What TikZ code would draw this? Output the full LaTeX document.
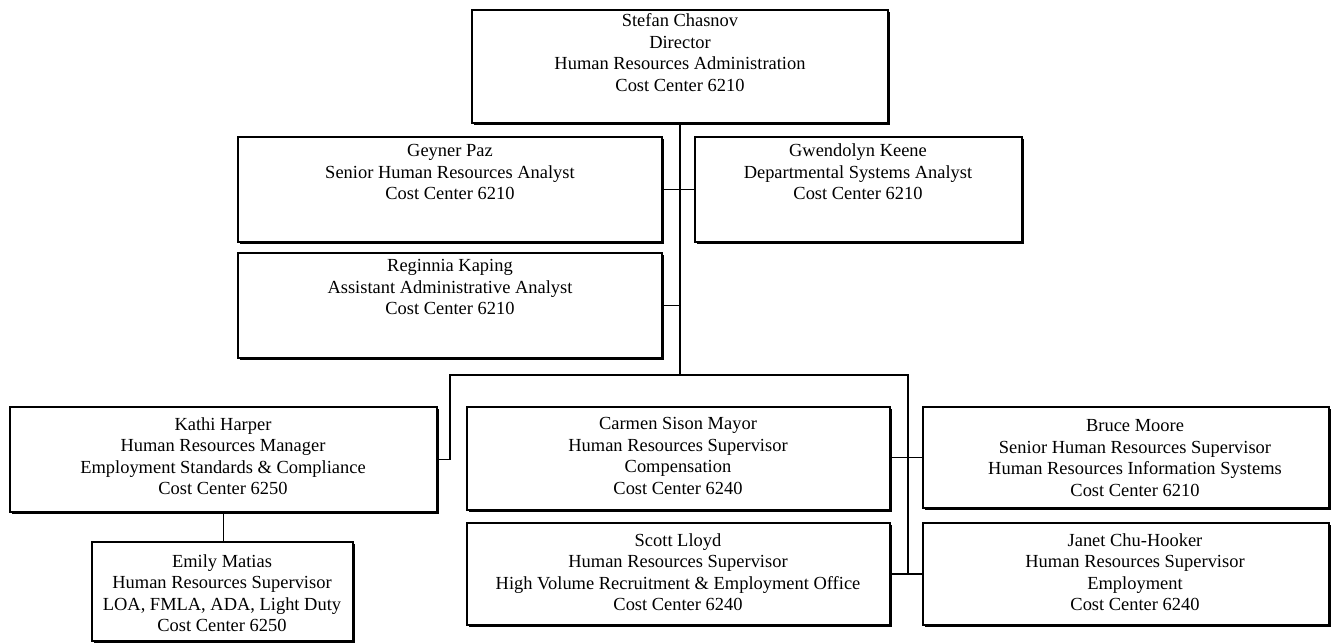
\documentclass[tikz,border=0pt]{standalone}
\usepackage{fontspec}
\setmainfont{Liberation Serif}
\usetikzlibrary{positioning,shadows}
\tikzset{
  card/.style={draw=black, fill=white, line width=0.8pt, inner sep=0pt,
    drop shadow={shadow xshift=0.9pt, shadow yshift=-0.9pt, fill=black, opacity=1}},
  lab/.style={align=center, font=\fontsize{10.5}{12.2}\selectfont},
  link/.style={draw=black, line width=0.6pt},
}

\begin{document}
\begin{tikzpicture}[x=0.02cm, y=-0.02cm]
  \useasboundingbox (0,0) rectangle (1331,643);

  % boxes
  \node[card, minimum width=8.32cm, minimum height=2.26cm] (dir) at (680,66.5) {};
  \node[card, minimum width=8.48cm, minimum height=2.10cm] (paz) at (450,189.5) {};
  \node[card, minimum width=6.54cm, minimum height=2.10cm] (keene) at (858.5,189.5) {};
  \node[card, minimum width=8.48cm, minimum height=2.10cm] (kaping) at (450,305.5) {};
  \node[card, minimum width=8.54cm, minimum height=2.10cm] (harper) at (223.5,459.5) {};
  \node[card, minimum width=5.22cm, minimum height=1.98cm] (matias) at (222.5,591.5) {};
  \node[card, minimum width=8.46cm, minimum height=2.06cm] (mayor) at (678.5,458.5) {};
  \node[card, minimum width=8.46cm, minimum height=2.04cm] (lloyd) at (678.5,574) {};
  \node[card, minimum width=8.12cm, minimum height=2.02cm] (moore) at (1126,457.5) {};
  \node[card, minimum width=8.12cm, minimum height=2.04cm] (chu) at (1126,574) {};

  % texts
  \node[lab] (dirT) at (680,52.5) {Stefan Chasnov\\Director\\Human Resources Administration\\Cost Center 6210};
  \node[lab] (pazT) at (450,172) {Geyner Paz\\Senior Human Resources Analyst\\Cost Center 6210};
  \node[lab] (keeneT) at (858,172) {Gwendolyn Keene\\Departmental Systems Analyst\\Cost Center 6210};
  \node[lab] (kapingT) at (450,287) {Reginnia Kaping\\Assistant Administrative Analyst\\Cost Center 6210};
  \node[lab] (harperT) at (223,456) {Kathi Harper\\Human Resources Manager\\Employment Standards \& Compliance\\Cost Center 6250};
  \node[lab] (matiasT) at (222,593) {Emily Matias\\Human Resources Supervisor\\LOA, FMLA, ADA, Light Duty\\Cost Center 6250};
  \node[lab] (mayorT) at (678,456) {Carmen Sison Mayor\\Human Resources Supervisor\\Compensation\\Cost Center 6240};
  \node[lab] (lloydT) at (678,572) {Scott Lloyd\\Human Resources Supervisor\\High Volume Recruitment \& Employment Office\\Cost Center 6240};
  \node[lab] (mooreT) at (1135,458) {Bruce Moore\\Senior Human Resources Supervisor\\Human Resources Information Systems\\Cost Center 6210};
  \node[lab] (chuT) at (1135,572) {Janet Chu-Hooker\\Human Resources Supervisor\\Employment\\Cost Center 6240};

  % connectors
  \coordinate (busL) at (450,375);
  \coordinate (busR) at (908,375);
  \draw[link] (dir.south) -- (dir.south |- busL);
  \draw[link] (paz.east) -- (keene.west);
  \draw[link] (kaping.east) -- (kaping.east -| dir.south);
  \draw[link] (harper.east) -| (busL) -- (busR) |- (lloyd.east);
  \draw[link] (moore.west) -- (moore.west -| mayor.east);
  \draw[link] (lloyd.east) -- (chu.west);
  \draw[link] (harper.south) -- (harper.south |- matias.north);
\end{tikzpicture}
\end{document}
